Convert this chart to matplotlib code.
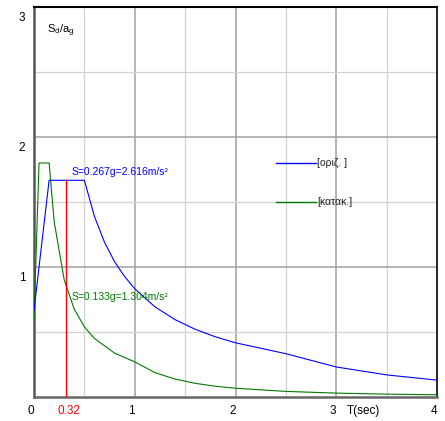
import matplotlib
matplotlib.use("Agg")
import matplotlib.pyplot as plt
from matplotlib import font_manager
from matplotlib.transforms import ScaledTranslation, blended_transform_factory

# Elastic design spectra, normalised Sd/ag against period T (sec)
T_hor = [0.0, 0.15, 0.5, 0.6, 0.7, 0.8, 0.9, 1.0, 1.2, 1.4, 1.6, 1.8, 2.0, 2.5, 3.0, 3.5, 4.0]
S_hor = [0.667, 1.667, 1.667, 1.389, 1.19, 1.04, 0.926, 0.833, 0.694, 0.595, 0.521,
         0.463, 0.417, 0.333, 0.231, 0.170, 0.130]

T_ver = [0.0, 0.05, 0.15, 0.2, 0.3, 0.4, 0.5, 0.6, 0.8, 1.0, 1.2, 1.4, 1.6, 1.8, 2.0,
         2.5, 3.0, 3.5, 4.0]
S_ver = [0.6, 1.8, 1.8, 1.35, 0.9, 0.675, 0.54, 0.45, 0.3375, 0.27, 0.1875, 0.138,
         0.105, 0.083, 0.0675, 0.043, 0.03, 0.022, 0.017]

T_sel = 0.32
S_sel_hor = 1.667
S_sel_ver = 0.833
label_hor = "S=0.267g=2.616m/s²"
label_ver = "S=0.133g=1.304m/s²"
legend_labels = ["[οριζ. ]", "[κατακ.]"]

x_ticks = [0, 1, 2, 3, 4]
y_ticks = [1, 2, 3]
x_grid_major = [1, 2, 3]
x_grid_minor = [0.5, 1.5, 2.5, 3.5]
y_grid_major = [1, 2]
y_grid_minor = [0.5, 1.5, 2.5]

avail = {f.name for f in font_manager.fontManager.ttflist}
fam = [f for f in ["Liberation Sans Narrow", "Liberation Sans", "DejaVu Sans"] if f in avail]
plt.rcParams["font.family"] = fam
plt.rcParams["mathtext.fontset"] = "custom"
plt.rcParams["mathtext.rm"] = fam[0]
plt.rcParams["mathtext.it"] = fam[0]

BLUE = "#0000ff"
GREEN = "#007a00"
RED = "#ff0000"

fig = plt.figure(figsize=(4.45, 4.21), dpi=100)
ax = fig.add_axes([34 / 445, 24 / 421, 403 / 445, 390 / 421])
ax.set_xlim(0, 4)
ax.set_ylim(0, 3)

for x in x_grid_minor:
    ax.axvline(x, color="#d2d2d2", lw=0.9, zorder=0)
for x in x_grid_major:
    ax.axvline(x, color="#a0a0a0", lw=1.1, zorder=0)
for y in y_grid_minor:
    ax.axhline(y, color="#d2d2d2", lw=0.9, zorder=0)
for y in y_grid_major:
    ax.axhline(y, color="#a0a0a0", lw=1.1, zorder=0)

ax.plot(T_ver, S_ver, color=GREEN, lw=0.8, zorder=3)
ax.plot(T_hor, S_hor, color=BLUE, lw=0.8, zorder=3)
ax.plot([T_sel, T_sel], [0, S_sel_hor], color=RED, lw=1.0, zorder=4)

ax.text(T_sel + 0.055, S_sel_hor + 0.025, label_hor, color=BLUE, fontsize=7.5,
        ha="left", va="bottom")
ax.text(T_sel + 0.055, S_sel_ver - 0.06, label_ver, color=GREEN, fontsize=7.5,
        ha="left", va="center")

# legend entries
for yf, col, lab in [(0.601, BLUE, legend_labels[0]), (0.501, GREEN, legend_labels[1])]:
    ax.plot([0.600, 0.700], [yf, yf], color=col, lw=1.0, transform=ax.transAxes,
            zorder=5)
    ax.text(0.702, yf, lab, color="#222222", fontsize=7.5, ha="left", va="center",
            transform=ax.transAxes)

ax.text(0.032, 0.94, r"S$_{\rm d}$/a$_{\rm g}$", fontsize=8, ha="left", va="center",
        transform=ax.transAxes)

# tick labels, drawn as text so that their offsets stay put
ax.set_xticks([])
ax.set_yticks([])
xt = blended_transform_factory(ax.transData, ax.transAxes)
yt = blended_transform_factory(ax.transAxes, ax.transData)
px = lambda dx, dy: ScaledTranslation(dx / 100, dy / 100, fig.dpi_scale_trans)
for v in x_ticks:
    ax.text(v, 0, str(v), fontsize=8.5, ha="center", va="top",
            transform=xt + px(-3, -8))
ax.text(T_sel, 0, f"{T_sel:.2f}", fontsize=8.5, ha="center", va="top", color=RED,
        transform=xt + px(3, -8))
for v in y_ticks:
    ax.text(0, v, str(v), fontsize=8.5, ha="center", va="top",
            transform=yt + px(-12, -5))
ax.text(3.1, 0, "T(sec)", fontsize=8.5, ha="left", va="top", transform=xt + px(0, -8))

ax.spines["left"].set_color("#555555")
ax.spines["left"].set_linewidth(1.8)
ax.spines["bottom"].set_color("#666666")
ax.spines["bottom"].set_linewidth(1.8)
ax.spines["top"].set_color("#000000")
ax.spines["top"].set_linewidth(1.5)
ax.spines["right"].set_color("#000000")
ax.spines["right"].set_linewidth(1.2)

fig.savefig("out.png", dpi=100, facecolor="white")
